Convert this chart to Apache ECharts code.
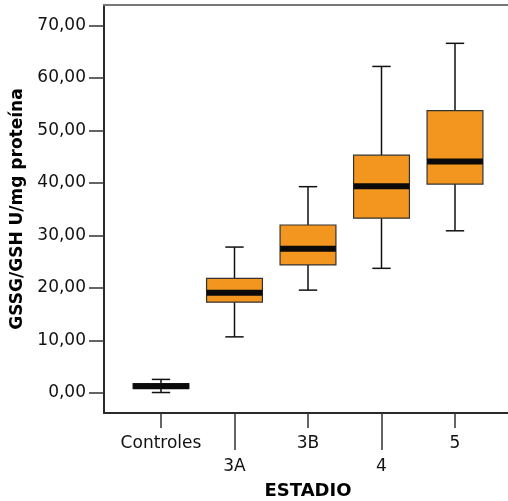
<!DOCTYPE html>
<html>
<head>
<meta charset="utf-8">
<script src="https://cdn.jsdelivr.net/npm/echarts@6/dist/echarts.min.js"></script>
<style>html,body{margin:0;padding:0;background:#fff}#c{width:508px;height:501px}</style>
</head>
<body>
<div id="c"></div>
<script>
const categories = ['Controles', '3A', '3B', '4', '5'];
const whiskerLow = [0.1, 10.7, 19.6, 23.75, 30.9];
const q1 = [0.9, 17.3, 24.4, 33.3, 39.8];
const median = [1.3, 19.1, 27.5, 39.4, 44.1];
const q3 = [1.8, 21.85, 32.0, 45.3, 53.8];
const whiskerHigh = [2.6, 27.8, 39.3, 62.2, 66.6];
const yTicks = [0, 10, 20, 30, 40, 50, 60, 70];

const boxData = categories.map((c, i) => [i, whiskerLow[i], q1[i], median[i], q3[i], whiskerHigh[i]]);

const FONT = 'DejaVu Sans';
const chart = echarts.init(document.getElementById('c'), null, {renderer: 'canvas'});
const xMin = -0.7755, xMax = 4.7755;
const catFmt = v => categories[Math.round(v)] || '';

chart.setOption({
  animation: false,
  backgroundColor: '#fff',
  grid: {left: 104, top: 5, width: 408, height: 408, containLabel: false, outerBoundsMode: 'none'},
  xAxis: [
    {
      type: 'value', position: 'bottom', min: xMin, max: xMax,
      axisLine: {show: true, onZero: false, lineStyle: {color: '#2a2a2a', width: 2}},
      axisTick: {show: true, customValues: [0, 2, 4], length: 15, lineStyle: {color: '#333', width: 1.5}},
      axisLabel: {customValues: [0, 2, 4], formatter: catFmt, margin: 21, fontSize: 17, fontFamily: FONT, color: '#111', lineHeight: 20},
      splitLine: {show: false},
      name: 'ESTADIO', nameLocation: 'middle', nameGap: 69,
      nameTextStyle: {fontSize: 18, fontWeight: 'bold', fontFamily: FONT, color: '#000'}
    },
    {
      type: 'value', position: 'bottom', min: xMin, max: xMax,
      axisLine: {show: false, onZero: false},
      axisTick: {show: true, customValues: [1, 3], length: 37, lineStyle: {color: '#333', width: 1.5}},
      axisLabel: {customValues: [1, 3], formatter: catFmt, margin: 44, fontSize: 17, fontFamily: FONT, color: '#111', lineHeight: 20},
      splitLine: {show: false}
    },
    {
      type: 'value', position: 'top', min: xMin, max: xMax,
      axisLine: {show: true, onZero: false, lineStyle: {color: '#777', width: 2}},
      axisTick: {show: false}, axisLabel: {show: false}, splitLine: {show: false}
    }
  ],
  yAxis: {
    type: 'value', min: -3.8, max: 73.9,
    axisLine: {show: true, onZero: false, lineStyle: {color: '#2a2a2a', width: 2}},
    axisTick: {show: true, customValues: yTicks, length: 15, lineStyle: {color: '#333', width: 1.5}},
    axisLabel: {customValues: yTicks, formatter: v => v.toFixed(2).replace('.', ','), margin: 18, fontSize: 17, fontFamily: FONT, color: '#111'},
    splitLine: {show: false},
    name: 'GSSG/GSH U/mg proteína', nameLocation: 'middle', nameGap: 71,
    nameTextStyle: {fontSize: 17, fontWeight: 'bold', fontFamily: FONT, color: '#000'}
  },
  series: [{
    type: 'custom',
    xAxisIndex: 0, yAxisIndex: 0,
    data: boxData,
    encode: {x: 0, y: [1, 2, 3, 4, 5]},
    renderItem: function (params, api) {
      const x = api.value(0);
      const lo = api.coord([x, api.value(1)]);
      const b1 = api.coord([x, api.value(2)]);
      const md = api.coord([x, api.value(3)]);
      const b3 = api.coord([x, api.value(4)]);
      const hi = api.coord([x, api.value(5)]);
      const band = api.size([1, 0])[0];
      const bw = band * 0.76;
      const cw = band * 0.25;
      const cx = lo[0];
      const lineStyle = {stroke: '#111', lineWidth: 1.5};
      return {
        type: 'group',
        children: [
          {type: 'line', shape: {x1: cx, y1: hi[1], x2: cx, y2: b3[1]}, style: lineStyle},
          {type: 'line', shape: {x1: cx, y1: b1[1], x2: cx, y2: lo[1]}, style: lineStyle},
          {type: 'line', shape: {x1: cx - cw / 2, y1: hi[1], x2: cx + cw / 2, y2: hi[1]}, style: lineStyle},
          {type: 'line', shape: {x1: cx - cw / 2, y1: lo[1], x2: cx + cw / 2, y2: lo[1]}, style: lineStyle},
          {type: 'rect', shape: {x: cx - bw / 2, y: b3[1], width: bw, height: b1[1] - b3[1]},
            style: {fill: '#F3961F', stroke: '#333', lineWidth: 1.2}},
          {type: 'rect', shape: {x: cx - bw / 2, y: md[1] - 3, width: bw, height: 6},
            style: {fill: '#0a0a0a'}}
        ]
      };
    }
  }]
});
</script>
</body>
</html>
